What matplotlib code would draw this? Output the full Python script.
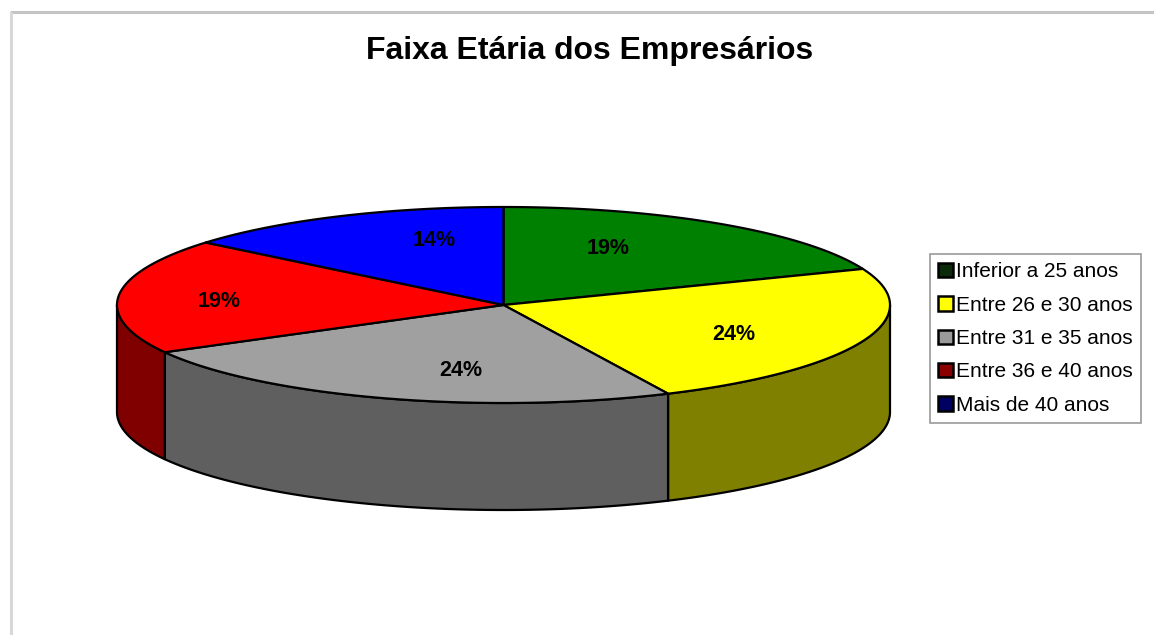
import numpy as np
import matplotlib.pyplot as plt
from matplotlib.patches import Polygon, Patch

plt.rcParams['font.family'] = ['Liberation Sans', 'DejaVu Sans']

# data
categories = ['Inferior a 25 anos', 'Entre 26 e 30 anos', 'Entre 31 e 35 anos',
              'Entre 36 e 40 anos', 'Mais de 40 anos']
values = [19, 24, 24, 19, 14]
top_colors = ['#008000', '#ffff00', '#a0a0a0', '#ff0000', '#0000ff']
side_colors = ['#004000', '#808000', '#5f5f5f', '#800000', '#000080']
legend_colors = ['#0a2a0a', '#ffff00', '#9a9a9a', '#8a0000', '#000060']

# layout (pixels)
figsize_px = np.array([1154, 635])
dpi = 100
cx, cy = 503.5, 305
a, b = 386.5, 98
depth = 107
label_rx = [0.48, 0.64, 0.36, 0.74, 0.42]
label_ry = [0.70, 0.83, 0.70, 0.33, 0.73]

fig = plt.figure(figsize=figsize_px / dpi, dpi=dpi)
ax = fig.add_axes([0, 0, 1, 1])
ax.set_xlim(0, figsize_px[0])
ax.set_ylim(figsize_px[1], 0)
ax.axis('off')

# chart border (top and left only visible)
ax.plot([10, 1154], [12, 12], color='#c4c4c4', lw=2.2, solid_capstyle='butt')
ax.plot([11, 11], [12, 635], color='#d8d8d8', lw=2.2, solid_capstyle='butt')


def ell(t, dy=0):
    return cx + a * np.sin(t), cy - b * np.cos(t) + dy


fr = np.array(values) / sum(values)
ends = np.cumsum(fr) * 2 * np.pi
starts = ends - fr * 2 * np.pi

# side walls (front half only: angles between 90 and 270 deg)
for s, e, c in zip(starts, ends, side_colors):
    lo, hi = max(s, np.pi / 2), min(e, 3 * np.pi / 2)
    if lo >= hi:
        continue
    t = np.linspace(lo, hi, 200)
    xt, yt = ell(t)
    xb, yb = ell(t[::-1], depth)
    pts = np.column_stack([np.r_[xt, xb], np.r_[yt, yb]])
    ax.add_patch(Polygon(pts, closed=True, fc=c, ec='black', lw=1.6, joinstyle='round'))

# top faces
for s, e, c in zip(starts, ends, top_colors):
    t = np.linspace(s, e, 200)
    xt, yt = ell(t)
    pts = np.column_stack([np.r_[cx, xt], np.r_[cy, yt]])
    ax.add_patch(Polygon(pts, closed=True, fc=c, ec='black', lw=1.6, joinstyle='round'))

# labels
for s, e, v, rx, ry in zip(starts, ends, values, label_rx, label_ry):
    m = (s + e) / 2
    x = cx + a * rx * np.sin(m)
    y = cy - b * ry * np.cos(m)
    ax.text(x, y, f'{v}%', ha='center', va='center', fontsize=15.5, fontweight='bold')

ax.text(589.5, 51, 'Faixa Etária dos Empresários', ha='center', va='center',
        fontsize=23, fontweight='bold')

handles = [Patch(fc=c, ec='black', lw=1.8) for c in legend_colors]
leg = ax.legend(handles, categories, loc='upper left',
                bbox_to_anchor=(930 / 1154, 1 - 254 / 635), fontsize=15,
                frameon=True, fancybox=False, borderpad=0.4,
                handlelength=0.7, handleheight=0.7, handletextpad=0.15,
                labelspacing=0.69, borderaxespad=0)
leg.get_frame().set_edgecolor('#808080')
leg.get_frame().set_linewidth(1.2)

plt.savefig('out.png', dpi=dpi)
